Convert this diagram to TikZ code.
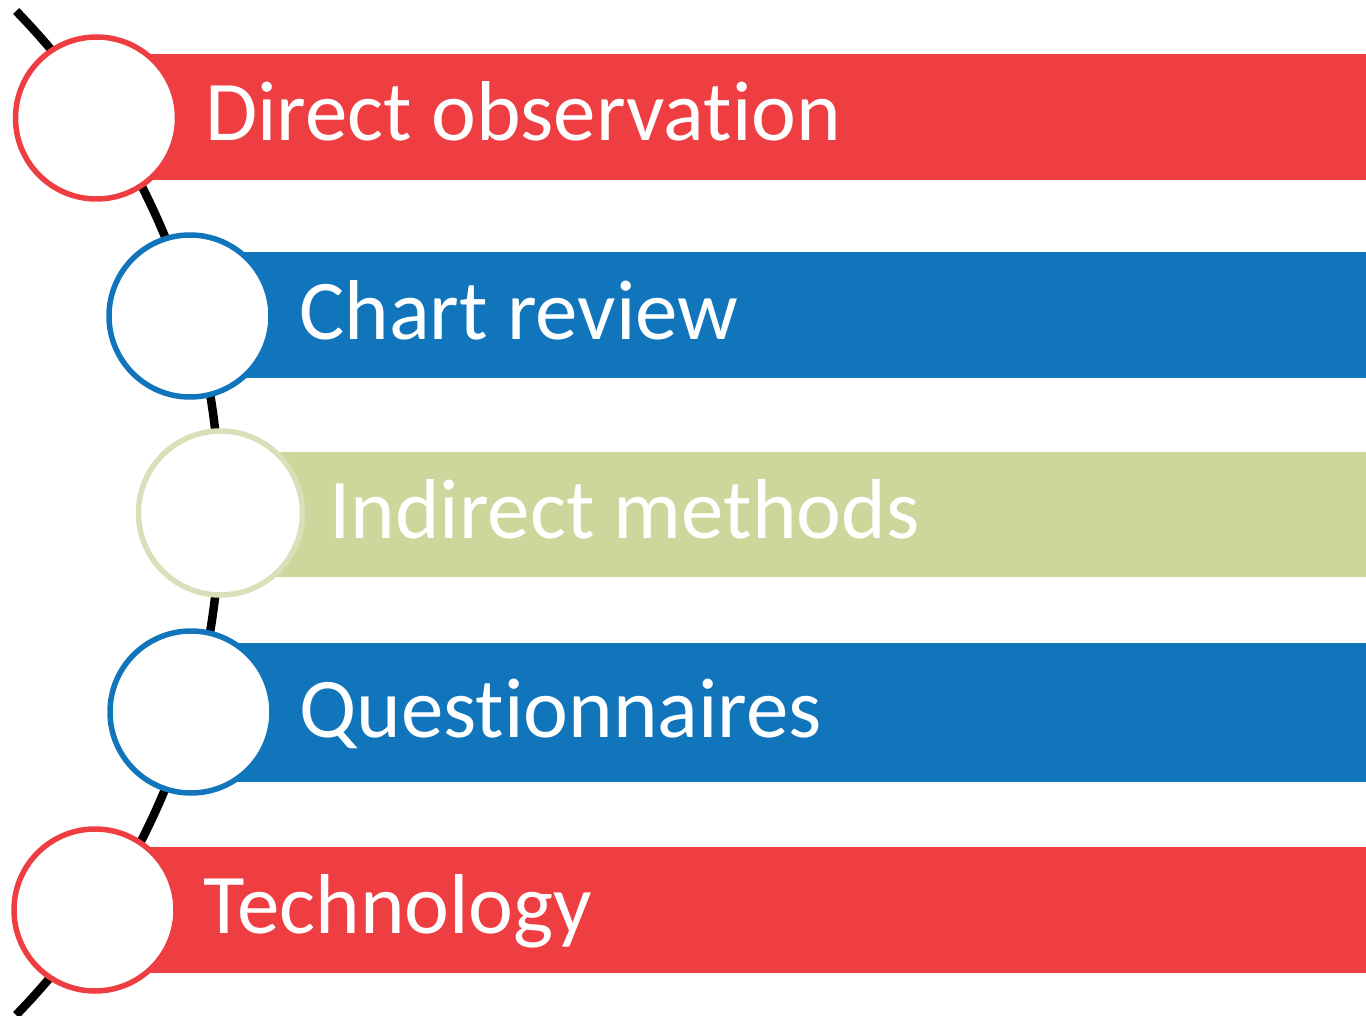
\documentclass[tikz,border=0pt]{standalone}
\usepackage{fontspec}
\setmainfont{Carlito}[Ligatures={NoCommon}]
\definecolor{barred}{HTML}{EE3E42}
\definecolor{barblue}{HTML}{1175BC}
\definecolor{bargreen}{HTML}{CDD69B}
\definecolor{ringgreen}{HTML}{D7E0B8}
\begin{document}
\begin{tikzpicture}[x=1pt,y=-1pt,
  band/.style={fill=#1,draw=none,inner sep=0pt},
  ring/.style={circle,draw=#1,line width=5.5pt,fill=white,minimum size=162pt,inner sep=0pt},
  label/.style={anchor=base west,inner sep=0pt,text=white,font=\fontsize{85}{100}\selectfont}]
\useasboundingbox (0,0) rectangle (1366,1016);

% spine arc behind everything
\draw[line width=8.5pt] (-500,513) ++(-44.2:720) arc[start angle=-44.2,end angle=44.2,radius=720];

% coloured bands
\path[band=barred]   (96,54)  rectangle (1366,180);
\path[band=barblue]  (190,252) rectangle (1366,378);
\path[band=bargreen] (220,452) rectangle (1366,577);
\path[band=barblue]  (191,643) rectangle (1366,782);
\path[band=barred]   (95,847)  rectangle (1366,973);

% rings on the spine
\node[ring=barred]    (r1) at (96.5,118) {};
\node[ring=barblue]   (r2) at (190,316) {};
\node[ring=ringgreen,minimum size=164pt] (r3) at (220.5,513) {};
\node[ring=barblue]   (r4) at (191,712) {};
\node[ring=barred]    (r5) at (95,910) {};

% band captions
\node[label] (t1) at (205,141) {Direct observation};
\node[label] (t2) at (299,340) {Chart review};
\node[label] (t3) at (329,538) {Indirect methods};
\node[label] (t4) at (299,737) {Questionnaires};
\node[label] (t5) at (203,933) {Technology};
\end{tikzpicture}
\end{document}
